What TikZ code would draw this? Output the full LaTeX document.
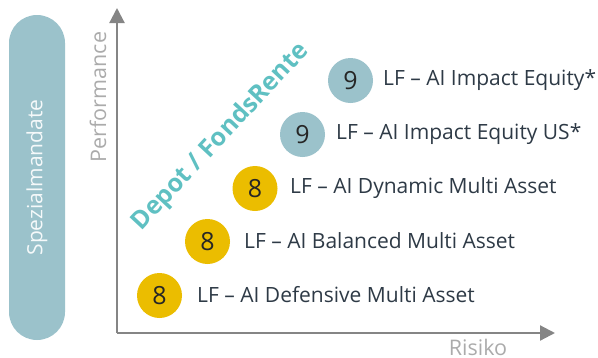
\documentclass[tikz,border=0pt]{standalone}
\usepackage{fontspec}
\setmainfont{Open Sans}
\usetikzlibrary{arrows.meta}
\definecolor{teal9}{HTML}{9BC2CB}
\definecolor{gold8}{HTML}{EBBD00}
\definecolor{axisgray}{HTML}{858585}
\definecolor{lblgray}{HTML}{ABABAB}
\definecolor{txtdark}{HTML}{2E3A46}
\definecolor{depot}{HTML}{5FC0C2}
\begin{document}
\begin{tikzpicture}[x=1pt,y=-1pt,
  fund/.style={circle,minimum size=45pt,inner sep=0pt,font=\fontsize{25}{25}\selectfont,text=black!85},
  gold/.style={fund,fill=gold8},
  tealc/.style={fund,fill=teal9},
  fundlbl/.style={anchor=west,inner sep=0pt,text=txtdark,font=\fontsize{21}{21}\selectfont},
  axislbl/.style={text=lblgray,font=\fontsize{21.5}{21.5}\selectfont,inner sep=0pt},
  axis/.style={draw=axisgray,line width=2.2pt,-{Triangle[length=15pt,width=15pt]}}]
\useasboundingbox (0,0) rectangle (598,357);
% Spezialmandate pill
\node (pill) [fill=teal9,rounded corners=28pt,minimum width=56pt,minimum height=325pt,inner sep=0pt] at (37,177.5) {};
\node (spez) [rotate=90,text=white!90!teal9,font=\fontsize{21}{21}\selectfont] at (pill.center) {Spezialmandate};
% axes
\coordinate (o) at (117,333);
\coordinate (ytip) at (117,8);
\coordinate (xtip) at (555,333);
\draw[axis] (o) -- (ytip);
\draw[axis] (o) -- (xtip);
\node (perf) [axislbl,rotate=90] at (98,97) {Performance};
\node (risk) [axislbl,anchor=base] at (478,355.5) {Risiko};
% diagonal label
\node (dep) [rotate=47,text=depot,font=\bfseries\fontsize{25}{25}\selectfont,inner sep=0pt] at (221,137) {Depot / FondsRente};
% funds
\node (c1) [gold] at (159.5,295.5) {8};
\node (c2) [gold] at (207.5,241.5) {8};
\node (c3) [gold] at (255,188.5) {8};
\node (c4) [tealc] at (302.5,134.5) {9};
\node (c5) [tealc] at (350.5,80.5) {9};
\node (l1) [fundlbl] at (197,295) {LF – AI Defensive Multi Asset};
\node (l2) [fundlbl] at (244,241) {LF – AI Balanced Multi Asset};
\node (l3) [fundlbl] at (290,188) {LF – AI Dynamic Multi Asset};
\node (l4) [fundlbl] at (336,134) {LF – AI Impact Equity US*};
\node (l5) [fundlbl] at (383,80) {LF – AI Impact Equity*};
\end{tikzpicture}
\end{document}
